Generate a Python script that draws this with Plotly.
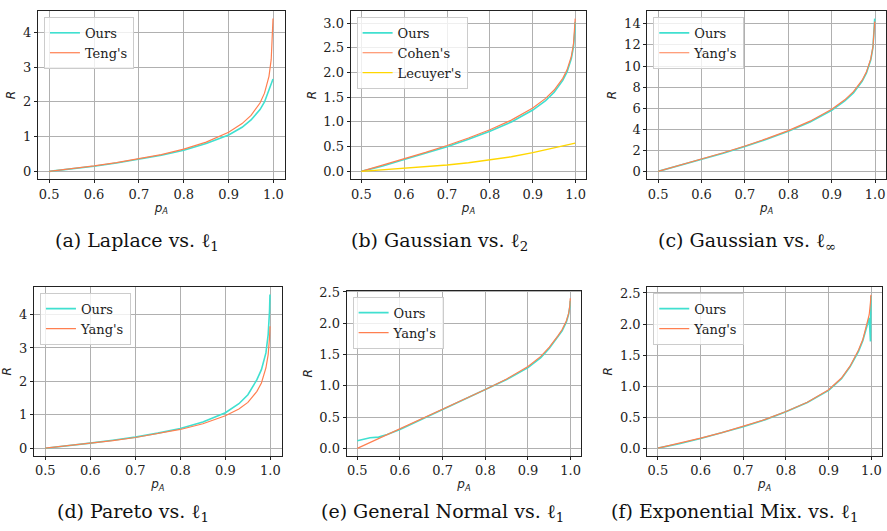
import plotly.graph_objects as go

# ---------------- data ----------------
pA = [0.50, 0.55, 0.60, 0.65, 0.70, 0.75, 0.80, 0.85, 0.90, 0.93, 0.95, 0.97, 0.98, 0.99, 0.995, 0.998, 0.999]

# (a) Laplace vs l1
a_ours  = [0.0, 0.07, 0.15, 0.24, 0.345, 0.465, 0.61, 0.80, 1.05, 1.27, 1.48, 1.78, 2.00, 2.35, 2.52, 2.62, 2.66]
a_teng  = [0.0, 0.074, 0.156, 0.250, 0.358, 0.485, 0.641, 0.843, 1.127, 1.376, 1.612, 1.969, 2.253, 2.738, 3.224, 3.865, 4.40]

# (b) Gaussian vs l2
b_ours   = [0.0, 0.11, 0.24, 0.37, 0.50, 0.65, 0.81, 1.00, 1.24, 1.43, 1.60, 1.84, 2.01, 2.28, 2.52, 2.82, 3.02]
b_cohen  = [0.0, 0.126, 0.253, 0.385, 0.524, 0.675, 0.842, 1.036, 1.282, 1.476, 1.645, 1.881, 2.054, 2.326, 2.576, 2.878, 3.09]
b_lecuy  = [0.0, 0.03, 0.06, 0.09, 0.13, 0.175, 0.23, 0.295, 0.38, 0.44, 0.48, 0.52, 0.54, 0.555, 0.565, 0.57, 0.57]

# (c) Gaussian vs l_inf
c_ours  = [0.0, 0.55, 1.12, 1.72, 2.36, 3.04, 3.80, 4.68, 5.80, 6.70, 7.45, 8.55, 9.35, 10.6, 11.8, 13.3, 14.5]
c_yang  = [0.0, 0.578, 1.165, 1.772, 2.412, 3.103, 3.871, 4.767, 5.895, 6.789, 7.567, 8.652, 9.447, 10.70, 11.85, 13.24, 14.21]

# (d) Pareto vs l1
d_ours  = [0.0, 0.07, 0.15, 0.235, 0.33, 0.45, 0.59, 0.78, 1.06, 1.33, 1.60, 2.05, 2.35, 2.85, 3.40, 4.10, 4.60]
d_yang  = [0.0, 0.07, 0.145, 0.225, 0.32, 0.43, 0.56, 0.73, 0.97, 1.17, 1.37, 1.70, 1.95, 2.40, 2.80, 3.30, 3.65]

# (e) General Normal vs l1
e_pA    = [0.50, 0.51, 0.52, 0.53, 0.55, 0.57, 0.60, 0.65, 0.70, 0.75, 0.80, 0.85, 0.90, 0.93, 0.95, 0.97, 0.98, 0.99, 0.995, 0.998, 0.999]
e_ours  = [0.12, 0.14, 0.16, 0.17, 0.18, 0.22, 0.30, 0.46, 0.61, 0.77, 0.93, 1.10, 1.29, 1.45, 1.60, 1.78, 1.88, 2.02, 2.14, 2.26, 2.36]
e_yang  = [0.0, 0.031, 0.062, 0.093, 0.155, 0.217, 0.31, 0.465, 0.62, 0.78, 0.94, 1.11, 1.31, 1.47, 1.62, 1.80, 1.90, 2.04, 2.15, 2.28, 2.40]

# (f) Exponential Mix vs l1
f_ours  = [0.0, 0.07, 0.155, 0.245, 0.345, 0.455, 0.585, 0.735, 0.93, 1.12, 1.31, 1.56, 1.73, 1.97, 2.10, 1.72, 2.45]
f_yang  = [0.0, 0.075, 0.16, 0.25, 0.35, 0.46, 0.59, 0.74, 0.94, 1.13, 1.32, 1.58, 1.75, 2.00, 2.15, 2.35, 2.47]

captions = ["(a) Laplace vs. ℓ<sub>1</sub>", "(b) Gaussian vs. ℓ<sub>2</sub>", "(c) Gaussian vs. ℓ<sub>∞</sub>",
            "(d) Pareto vs. ℓ<sub>1</sub>", "(e) General Normal vs. ℓ<sub>1</sub>", "(f) Exponential Mix. vs. ℓ<sub>1</sub>"]

x_ticks = [0.5, 0.6, 0.7, 0.8, 0.9, 1.0]
y_ticks = [[0, 1, 2, 3, 4], [0.0, 0.5, 1.0, 1.5, 2.0, 2.5, 3.0], [0, 2, 4, 6, 8, 10, 12, 14],
           [0, 1, 2, 3, 4], [0.0, 0.5, 1.0, 1.5, 2.0, 2.5], [0.0, 0.5, 1.0, 1.5, 2.0, 2.5]]
y_fmt = ["d", ".1f", "d", "d", ".1f", ".1f"]
y_ranges = [[-0.22, 4.62], [-0.155, 3.245], [-0.725, 15.225], [-0.23, 4.83], [-0.12, 2.52], [-0.125, 2.6]]

# ---------------- style ----------------
W, H = 887, 531
TURQ = "#40E0D0"
CORAL = "#FF7F50"
GOLD = "#FFD700"
TICKFONT = dict(family="DejaVu Serif", size=13, color="#222")
LABFONT = dict(family="DejaVu Sans", size=12, color="#222")

# panel boxes in pixels: (left, top, right, bottom)
boxes = [(38, 5, 285, 175), (351, 5, 587, 175), (648, 5, 888, 175),
         (34, 284, 282, 455), (347, 288, 582, 455), (648, 284, 883, 455)]
cap_pos = [(137, 238), (440, 238), (748, 238), (133, 512), (443, 512), (735, 512)]

fig = go.Figure()

panels = [
    [("Ours", pA, a_ours, TURQ, 1.6), ("Teng's", pA, a_teng, CORAL, 1.2)],
    [("Ours", pA, b_ours, TURQ, 1.6), ("Cohen's", pA, b_cohen, CORAL, 1.2), ("Lecuyer's", pA, b_lecuy, GOLD, 1.4)],
    [("Ours", pA, c_ours, TURQ, 1.6), ("Yang's", pA, c_yang, CORAL, 1.2)],
    [("Ours", pA, d_ours, TURQ, 1.6), ("Yang's", pA, d_yang, CORAL, 1.2)],
    [("Ours", e_pA, e_ours, TURQ, 1.6), ("Yang's", e_pA, e_yang, CORAL, 1.2)],
    [("Ours", pA, f_ours, TURQ, 1.6), ("Yang's", pA, f_yang, CORAL, 1.2)],
]

layout = dict(width=W, height=H, margin=dict(l=0, r=0, t=0, b=0),
              paper_bgcolor="white", plot_bgcolor="white", annotations=[])

for i, series in enumerate(panels):
    k = i + 1
    xa = "x" if k == 1 else f"x{k}"
    ya = "y" if k == 1 else f"y{k}"
    lg = "legend" if k == 1 else f"legend{k}"
    for name, xs, ys, col, w in series:
        fig.add_trace(go.Scatter(x=xs, y=ys, mode="lines", name=name,
                                 line=dict(color=col, width=w),
                                 xaxis=xa, yaxis=ya, legend=lg))
    L, T, R, B = boxes[i]
    xdom = [L / W, min(R / W, 1.0)]
    ydom = [1 - B / H, 1 - T / H]
    common = dict(showgrid=True, gridcolor="#b0b0b0", gridwidth=1,
                  showline=True, linecolor="#222", linewidth=1, mirror=True,
                  ticks="outside", ticklen=3, tickcolor="#222", tickfont=TICKFONT,
                  zeroline=False)
    layout["xaxis" if k == 1 else f"xaxis{k}"] = dict(
        common, domain=xdom, range=[0.475, 1.025], tickvals=x_ticks, tickformat=".1f",
        anchor=ya, title=dict(text="<i>p</i><sub><i>A</i></sub>", font=LABFONT, standoff=2))
    layout["yaxis" if k == 1 else f"yaxis{k}"] = dict(
        common, domain=ydom, range=y_ranges[i], tickvals=y_ticks[i], tickformat=y_fmt[i],
        anchor=xa, title=dict(text="<i>R</i>", font=LABFONT, standoff=4))
    layout[lg] = dict(x=(L + 6) / W, y=1 - (T + 6) / H, xanchor="left", yanchor="top",
                      bgcolor="rgba(255,255,255,0.8)", bordercolor="#cccccc", borderwidth=1,
                      font=dict(family="DejaVu Serif", size=13, color="#222"),
                      itemwidth=30, tracegroupgap=0)
    cx, cy = cap_pos[i]
    layout["annotations"].append(dict(text=captions[i], x=cx / W, y=1 - cy / H,
                                      xref="paper", yref="paper", showarrow=False,
                                      xanchor="center", yanchor="middle",
                                      font=dict(family="DejaVu Serif", size=19, color="#111")))

fig.update_layout(**layout)
fig.write_html("out.html", config={"displayModeBar": False},
               post_script="document.body.style.margin='0';document.body.style.padding='0';")
